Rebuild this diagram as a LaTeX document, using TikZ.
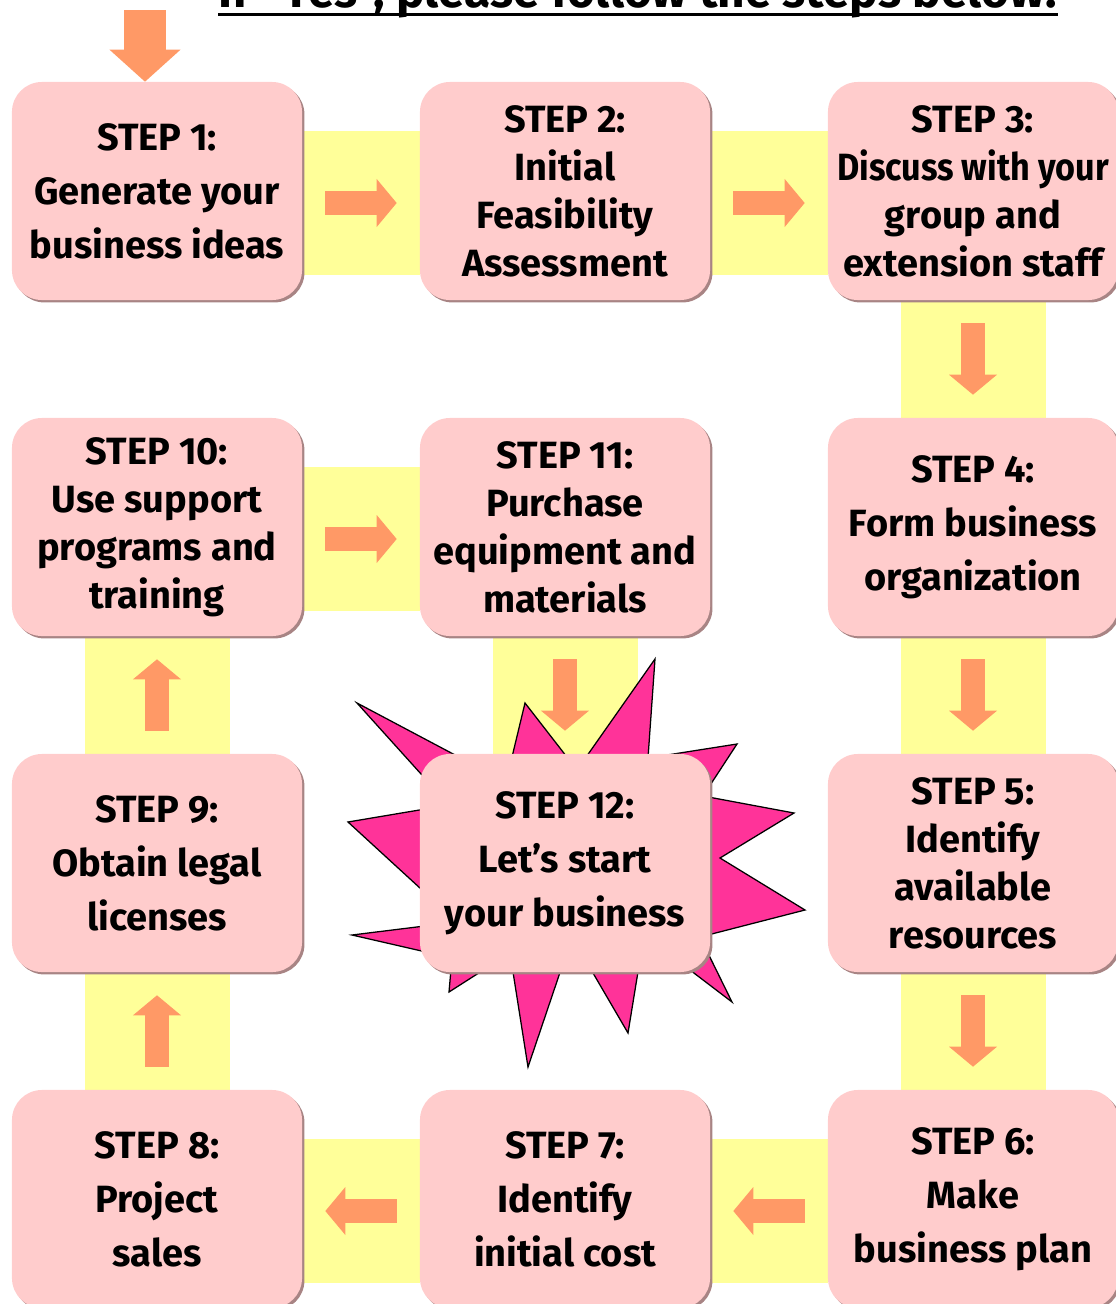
\documentclass[tikz,border=0pt]{standalone}
\usepackage{fontspec}
\setmainfont{Fira Sans}
\newfontfamily\narrowfont{Fira Sans}[FakeStretch=0.9]
\usepackage{xcolor}
\usetikzlibrary{arrows.meta,shadows,backgrounds}
\definecolor{boxpink}{HTML}{FFCCCC}
\definecolor{boxshade}{HTML}{A88484}
\definecolor{bandyellow}{HTML}{FFFF99}
\definecolor{arroworange}{HTML}{FF9966}
\definecolor{starpink}{HTML}{FF3399}

\begin{document}
\begin{tikzpicture}[
    x=0.025cm, y=-0.025cm,
    every node/.style={font=\bfseries},
    stepbox/.style={
        rectangle, rounded corners=0.75cm, fill=boxpink,
        minimum width=7.25cm, minimum height=5.45cm,
        align=center, inner sep=0pt,
        drop shadow={shadow xshift=0.06cm, shadow yshift=-0.06cm,
                     fill=boxshade, opacity=1}
    },
    three/.style={font=\bfseries\fontsize{27}{38.4}\selectfont},
    four/.style={font=\bfseries\fontsize{27}{34.1}\selectfont},
    band/.style={fill=bandyellow},
    flow/.style={draw=arroworange, line width=0.6cm,
        -{Triangle[width=1.2cm, length=0.5cm, line width=0pt]}},
    bigflow/.style={draw=arroworange, line width=1.025cm,
        -{Triangle[width=1.775cm, length=0.8cm, line width=0pt]}},
    burst/.style={fill=starpink, draw=black, line width=0.9pt}
]
% --- grid: column centres 157 + (c-1)*colw, row centres 191 + (r-1)*rowh (px)
\def\px{0.025cm}
\def\colw{408}
\def\rowh{336}

\useasboundingbox (0,0) rectangle (1116,1304);

% Heading, only its lower edge shows
\node[font=\bfseries\fontsize{34}{38}\selectfont, anchor=base, inner sep=0pt]
    (title) at (638,7) {If “Yes”, please follow the steps below:};
\draw[line width=3*\px] ([yshift=-7*\px]title.base west) -- ([yshift=-7*\px]title.base east);

% Burst behind the last step
\draw[burst] (357,703) -- (506,782) -- (525,703) -- (577,770) -- (655,659)
    -- (648,758) -- (737,744) -- (703,796) -- (794,813) -- (720,858)
    -- (805,910) -- (700,937) -- (732,1002) -- (644,935) -- (628,1033)
    -- (572,937) -- (528,1067) -- (510,953) -- (449,992) -- (452,958)
    -- (352,935) -- (457,922) -- (348,822) -- (449,805) -- cycle;

% Steps: (number, column, row, leading, text)
\foreach \n/\c/\r/\sty/\txt in {%
    1/1/1/three/{STEP 1:\\Generate your\\business ideas},
    2/2/1/four/{STEP 2:\\Initial\\Feasibility\\Assessment},
    3/3/1/four/{STEP 3:\\\narrowfont Discuss with your\\group and\\extension staff},
    4/3/2/three/{STEP 4:\\Form business\\organization},
    5/3/3/four/{STEP 5:\\Identify\\available\\resources},
    6/3/4/three/{STEP 6:\\Make\\business plan},
    7/2/4/three/{STEP 7:\\Identify\\initial cost},
    8/1/4/three/{STEP 8:\\Project\\sales},
    9/1/3/three/{STEP 9:\\Obtain legal\\licenses},
    10/1/2/four/{STEP 10:\\Use support\\programs and\\training},
    11/2/2/four/{STEP 11:\\Purchase\\equipment and\\materials},
    12/2/3/three/{STEP 12:\\Let’s start\\your business}}
  \node[stepbox, \sty] (s\n) at ({157+(\c-1)*\colw}, {191+(\r-1)*\rowh}) {\txt};

% Yellow bands between the steps
\begin{scope}[on background layer]
  \foreach \a/\b in {1/2, 2/3, 10/11}
    \fill[band] ([yshift=60*\px]s\a.east) rectangle ([yshift=-84*\px]s\b.west);
  \foreach \a/\b in {6/7, 7/8}
    \fill[band] ([yshift=60*\px]s\a.west) rectangle ([yshift=-84*\px]s\b.east);
  \foreach \a/\b in {3/4, 4/5, 5/6, 11/12}
    \fill[band] ([xshift=-72.5*\px]s\a.south) rectangle ([xshift=72.5*\px]s\b.north);
  \foreach \a/\b in {8/9, 9/10}
    \fill[band] ([xshift=-72.5*\px]s\a.north) rectangle ([xshift=72.5*\px]s\b.south);
\end{scope}

% Arrows
\coordinate (entry) at (145,10);
\draw[bigflow] (entry) -- ([xshift=-12*\px]s1.north);
\foreach \a/\b in {1/2, 2/3, 10/11}
  \draw[flow] ([xshift=23*\px, yshift=-12*\px]s\a.east) -- ([xshift=-23*\px, yshift=-12*\px]s\b.west);
\foreach \a/\b in {6/7, 7/8}
  \draw[flow] ([xshift=-23*\px, yshift=-12*\px]s\a.west) -- ([xshift=23*\px, yshift=-12*\px]s\b.east);
\foreach \a/\b in {3/4, 4/5, 5/6, 11/12}
  \draw[flow] ([yshift=-23*\px]s\a.south) -- ([yshift=23*\px]s\b.north);
\foreach \a/\b in {8/9, 9/10}
  \draw[flow] ([yshift=23*\px]s\a.north) -- ([yshift=-23*\px]s\b.south);
\end{tikzpicture}
\end{document}
